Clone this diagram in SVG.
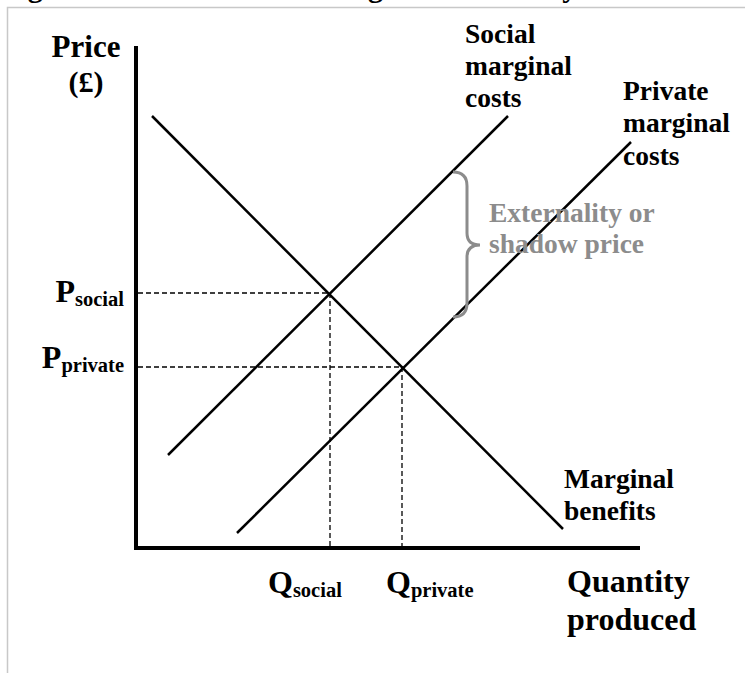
<svg xmlns="http://www.w3.org/2000/svg" width="745" height="673" viewBox="0 0 745 673">
<style>
text{font-family:"Liberation Serif","Times New Roman",serif;font-weight:bold;fill:#000}
.lbl{font-size:27.5px}
.big{font-size:32px}
.gray{fill:#8c8c8c;font-size:27.5px}
.curve{stroke:#000;stroke-width:2.5;fill:none}
.axis{stroke:#000;stroke-width:4;fill:none}
.dash{stroke:#000;stroke-width:1.3;stroke-dasharray:5 3;fill:none}
.main{font-size:32px}
.sub{font-size:20.5px}
</style>
<rect width="745" height="673" fill="#fff"/>
<text x="1" y="-3" style="font-size:30px">Figure 4: The effect of a marginal externality</text>
<rect x="7.5" y="7.5" width="780" height="720" fill="none" stroke="#c8c8c8" stroke-width="1.5"/>
<g id="axes">
<line class="axis" x1="136" y1="46" x2="136" y2="550"/>
<line class="axis" x1="134" y1="548" x2="640" y2="548"/>
</g>
<g id="connectors">
<line class="dash" x1="138" y1="293" x2="330" y2="293"/>
<line class="dash" x1="330" y1="293" x2="330" y2="546"/>
<line class="dash" x1="138" y1="367" x2="403" y2="367"/>
<line class="dash" x1="402" y1="367" x2="402" y2="546"/>
</g>
<g id="marginal-benefits">
<line class="curve" x1="152" y1="116" x2="563" y2="529"/>
<text class="lbl" x="564" y="488">Marginal</text>
<text class="lbl" x="564" y="520">benefits</text>
</g>
<g id="social-marginal-costs">
<line class="curve" x1="168" y1="455" x2="508" y2="116"/>
<text class="lbl" x="465" y="43">Social</text>
<text class="lbl" x="465" y="75">marginal</text>
<text class="lbl" x="465" y="107">costs</text>
</g>
<g id="private-marginal-costs">
<line class="curve" x1="237" y1="533" x2="631" y2="142"/>
<text class="lbl" x="623" y="100">Private</text>
<text class="lbl" x="623" y="132">marginal</text>
<text class="lbl" x="623" y="165">costs</text>
</g>
<g id="externality">
<path d="M453,172 Q467,172 467,186 L467,233 Q467,245 480,245 Q467,245 467,257 L467,303 Q467,317 453,317" fill="none" stroke="#8c8c8c" stroke-width="3"/>
<text class="gray" x="489" y="222">Externality or</text>
<text class="gray" x="489" y="253">shadow price</text>
</g>
<g id="price-axis-label">
<text x="86" y="57" text-anchor="middle" style="font-size:31px">Price</text>
<text x="86" y="92" text-anchor="middle" style="font-size:30px">(£)</text>
</g>
<g id="p-social">
<text x="124" y="302" text-anchor="end"><tspan class="main">P</tspan><tspan class="sub" dy="4">social</tspan></text>
</g>
<g id="p-private">
<text x="124" y="368" text-anchor="end"><tspan class="main">P</tspan><tspan class="sub" dy="4">private</tspan></text>
</g>
<g id="q-social">
<text x="268" y="593"><tspan class="main">Q</tspan><tspan class="sub" dy="4">social</tspan></text>
</g>
<g id="q-private">
<text x="386" y="593"><tspan class="main">Q</tspan><tspan class="sub" dy="4">private</tspan></text>
</g>
<g id="quantity-axis-label">
<text class="big" x="567" y="592">Quantity</text>
<text class="big" x="567" y="630">produced</text>
</g>
</svg>
